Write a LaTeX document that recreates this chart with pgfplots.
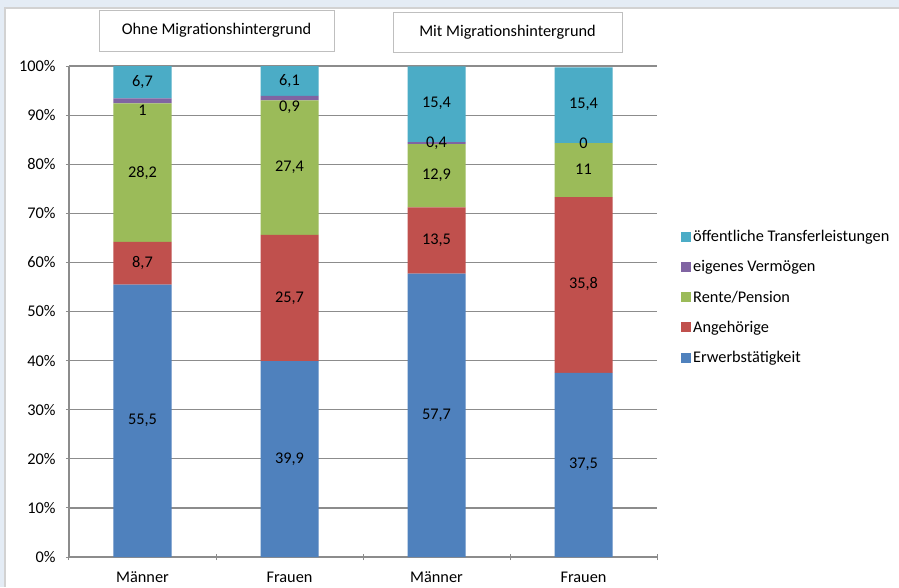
\documentclass[border=0pt]{standalone}
\usepackage{pgfplots}
\pgfplotsset{compat=1.18}
\usepackage{fontspec}
\setmainfont{Carlito}
\definecolor{cBlue}{HTML}{4F81BD}
\definecolor{cRed}{HTML}{C0504D}
\definecolor{cGreen}{HTML}{9BBB59}
\definecolor{cPurple}{HTML}{8064A2}
\definecolor{cAqua}{HTML}{4BACC6}
\definecolor{cBand}{HTML}{E4ECF5}
\definecolor{cGrid}{HTML}{8C8C8C}
\definecolor{cBox}{HTML}{BFBFBF}
\newcommand{\F}{\fontsize{16.3}{19}\selectfont}
\begin{document}
\begin{tikzpicture}
\useasboundingbox (0,0) rectangle (899pt,-587pt);
\fill[white] (0,0) rectangle (899pt,-587pt);
\fill[cBand] (0,0) rectangle (899pt,-7pt);
\fill[cBand] (0,0) rectangle (4pt,-587pt);
\fill[gray!35] (4pt,-7pt) rectangle (899pt,-9pt);
\fill[gray!35] (4pt,-7pt) rectangle (6pt,-587pt);
\begin{axis}[
  at={(69pt,-66pt)}, anchor=north west,
  width=588pt, height=491pt, scale only axis,
  ybar stacked, bar width=58pt,
  xmin=-0.5, xmax=3.5, ymin=0, ymax=100,
  xtick={0,1,2,3},
  xticklabels={Männer,Frauen,Männer,Frauen},
  minor xtick={-0.5,0.5,1.5,2.5,3.5},
  major x tick style={draw=none},
  ytick={0,10,...,100},
  yticklabels={0\%,10\%,20\%,30\%,40\%,50\%,60\%,70\%,80\%,90\%,100\%},
  tick align=outside,
  major tick length=6pt, minor tick length=6pt,
  tick style={cGrid, line width=1pt},
  axis lines=left,
  axis line style={-, cGrid, line width=1.2pt},
  ymajorgrids, grid style={cGrid, line width=1.2pt},
  tick label style={font=\F},
  xticklabel style={yshift=-8pt},
  yticklabel style={xshift=-7pt},
  legend style={at={(1.0408,0.670)}, anchor=north west, draw=none, fill=none,
    font=\F, row sep=13.5pt, inner sep=0pt,
    nodes={inner sep=2pt}},
  legend cell align=left,
  reverse legend,
  legend image code/.code={\fill[#1] (0pt,-5pt) rectangle (10pt,5pt);},
  every axis plot/.append style={draw=none},
]
\addplot[fill=cBlue] coordinates {(0,55.5) (1,39.9) (2,57.7) (3,37.5)};
\addplot[fill=cRed] coordinates {(0,8.7) (1,25.7) (2,13.5) (3,35.8)};
\addplot[fill=cGreen] coordinates {(0,28.2) (1,27.4) (2,12.9) (3,11)};
\addplot[fill=cPurple] coordinates {(0,1) (1,0.9) (2,0.4) (3,0)};
\addplot[fill=cAqua] coordinates {(0,6.7) (1,6.1) (2,15.4) (3,15.4)};
\legend{Erwerbstätigkeit,Angehörige,Rente/Pension,eigenes Vermögen,öffentliche Transferleistungen}
\end{axis}
\begin{axis}[
  at={(69pt,-66pt)}, anchor=north west,
  width=588pt, height=491pt, scale only axis,
  xmin=-0.5, xmax=3.5, ymin=0, ymax=100,
  hide axis, clip=false,
]
\addplot[draw=none, nodes near coords, point meta=explicit symbolic,
  every node near coord/.style={anchor=center, font=\F, text=black}]
  coordinates {
  (0,27.75) [55,5] (0,59.85) [8,7] (0,78.3) [28,2] (0,91.0) [1] (0,96.7) [6,7]
  (1,19.95) [39,9] (1,52.75) [25,7] (1,79.3) [27,4] (1,91.6) [0,9] (1,96.95) [6,1]
  (2,28.85) [57,7] (2,64.45) [13,5] (2,77.65) [12,9] (2,84.3) [0,4] (2,92.35) [15,4]
  (3,18.8) [37,5] (3,55.55) [35,8] (3,79.0) [11] (3,84.3) [0] (3,92.3) [15,4]
  };
\end{axis}
\node[draw=cBox, line width=1pt, fill=white, minimum width=235pt, minimum height=41pt, font=\F] at (216.5pt,-30.5pt) {Ohne Migrationshintergrund};
\node[draw=cBox, line width=1pt, fill=white, minimum width=229pt, minimum height=40pt, font=\F] at (507.5pt,-32pt) {Mit Migrationshintergrund};
\end{tikzpicture}
\end{document}
